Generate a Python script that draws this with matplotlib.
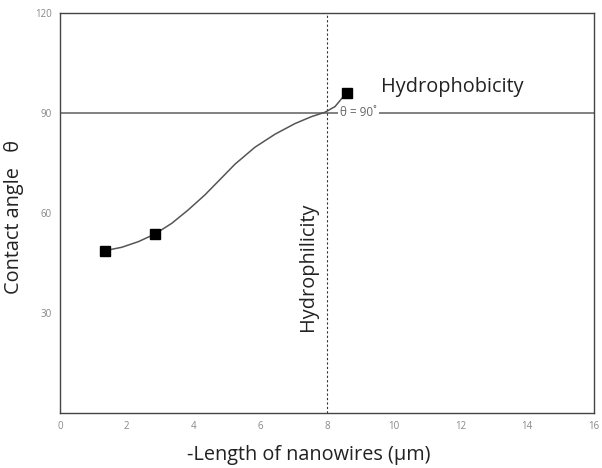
import numpy as np
from matplotlib import pyplot as plt

# measured points (length in um, contact angle in deg)
length = [1.35, 2.85, 8.59]
angle = [48.7, 53.7, 96.1]

# fitted curve
curve_x = [1.35, 1.85, 2.35, 2.85, 3.35, 3.84, 4.34, 4.86, 5.24, 5.84,
           6.44, 7.04, 7.54, 7.94, 8.24, 8.49, 8.59]
curve_y = [48.7, 49.7, 51.4, 53.7, 56.9, 60.9, 65.4, 70.7, 74.6, 79.7,
           83.6, 86.8, 88.9, 90.2, 91.9, 94.9, 96.1]

x_ticks = [0, 2, 4, 6, 8, 10, 12, 14, 16]
y_ticks = [30, 60, 90, 120]
threshold_angle = 90
threshold_length = 8

plt.rcParams["font.family"] = ["Open Sans", "DejaVu Sans"]

fig = plt.figure(figsize=(6.02, 4.68), dpi=100)
ax = fig.add_axes([0.0997, 0.1175, 0.887, 0.855])

ax.plot(curve_x, curve_y, color="#555555", lw=1.1, zorder=2,
        solid_joinstyle="round")
ax.plot(length, angle, "s", color="black", ms=7, zorder=3)

ax.axhline(threshold_angle, color="#777777", lw=1.3, zorder=1)
ax.axvline(threshold_length, color="#333333", lw=0.8, ls=(0, (2, 2)), zorder=1)

ax.text(8.4, threshold_angle, "θ = 90˚", fontsize=8.5, color="#666666",
        va="center", ha="left", zorder=4,
        bbox=dict(facecolor="white", edgecolor="none", pad=1.5))
ax.text(11.75, 97.8, "Hydrophobicity", fontsize=14.3, color="#222222",
        va="center", ha="center")
ax.text(7.43, 44, "Hydrophilicity", fontsize=14.3, color="#222222",
        rotation=90, va="center", ha="center")

ax.set_xlim(0, 16)
ax.set_ylim(0, 120)
ax.set_xticks(x_ticks)
ax.set_yticks(y_ticks)
ax.tick_params(length=0, labelsize=7, labelcolor="#888888", pad=6)

for side in ["left", "bottom", "right", "top"]:
    ax.spines[side].set_color("#444444")
    ax.spines[side].set_linewidth(1.0)

ax.set_xlabel("-Length of nanowires (μm)", fontsize=14.3, color="#222222",
              va="baseline")
ax.xaxis.set_label_coords(0.466, -0.117)
ax.set_ylabel("Contact angle   θ", fontsize=14.3, color="#222222")
ax.yaxis.set_label_coords(-0.068, 0.49)

fig.savefig("out.png", dpi=100)
